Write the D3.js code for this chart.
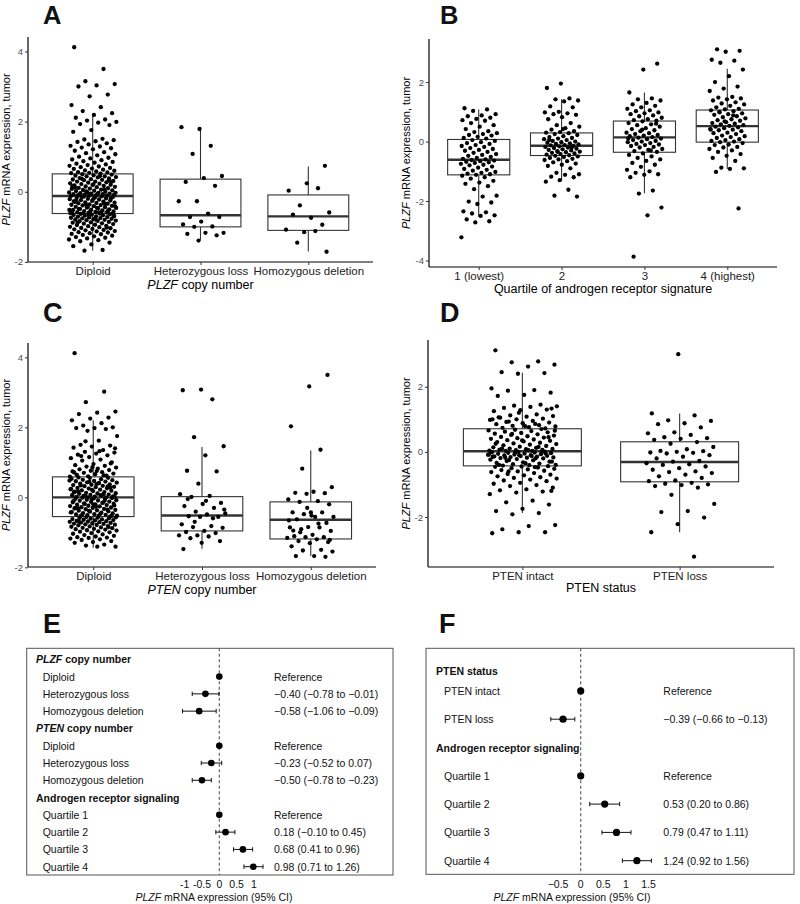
<!DOCTYPE html>
<html><head><meta charset="utf-8">
<script src="https://cdn.jsdelivr.net/npm/d3@7"></script>
<style>
body{margin:0;background:#fff}
svg{display:block}
text{font-family:"Liberation Sans",Arial,Helvetica,sans-serif}
</style>
</head><body>
<svg id="c" width="800" height="904"></svg>
<script>
// ---------------- DATA ----------------
const A_cats = ["Diploid","Heterozygous loss","Homozygous deletion"];
const A_dip = [4.12,3.5,3.15,3.07,3.03,3.0,2.77,2.72,2.47,2.41,2.3,2.24,2.19,2.11,2.06,2.03,1.99,1.97,1.93,1.9,1.76,1.71,1.51,1.49,1.47,1.44,1.42,1.38,1.35,1.31,1.29,1.26,1.24,1.21,1.17,1.13,1.1,1.07,1.04,1.0,0.97,0.95,0.92,0.9,0.87,0.85,0.83,0.8,0.78,0.76,0.74,0.72,0.7,0.68,0.66,0.65,0.63,0.61,0.6,0.58,0.56,0.55,0.54,0.53,0.52,
0.5,0.49,0.47,0.46,0.44,0.44,0.42,0.41,0.39,0.38,0.36,0.35,0.34,0.33,0.31,0.29,0.29,0.27,0.26,0.24,0.23,0.22,0.2,0.19,0.18,0.17,0.15,0.14,0.13,0.11,0.1,0.09,0.08,0.06,0.05,0.04,0.03,0.02,0.0,-0.01,-0.02,-0.03,-0.04,-0.05,-0.06,-0.07,-0.07,-0.08,-0.09,-0.1,-0.1,-0.11,-0.11,-0.12,0.45,0.37,0.28,0.21,0.12,0.07,0.01,-0.03,-0.06,-0.08,0.32,-0.05,0.16,
-0.13,-0.14,-0.15,-0.16,-0.18,-0.19,-0.2,-0.21,-0.22,-0.24,-0.25,-0.26,-0.27,-0.28,-0.3,-0.31,-0.32,-0.33,-0.34,-0.36,-0.37,-0.38,-0.39,-0.4,-0.41,-0.43,-0.44,-0.45,-0.46,-0.47,-0.49,-0.5,-0.51,-0.52,-0.53,-0.55,-0.56,-0.57,-0.58,-0.59,-0.6,-0.61,-0.62,-0.14,-0.19,-0.23,-0.29,-0.33,-0.36,-0.42,-0.46,-0.49,-0.53,-0.56,-0.58,-0.6,-0.61,-0.62,-0.17,-0.27,-0.35,-0.44,-0.52,-0.59,
-0.63,-0.64,-0.65,-0.66,-0.67,-0.68,-0.69,-0.7,-0.71,-0.72,-0.73,-0.74,-0.75,-0.76,-0.77,-0.78,-0.79,-0.8,-0.81,-0.82,-0.83,-0.84,-0.86,-0.87,-0.88,-0.9,-0.91,-0.92,-0.94,-0.95,-0.97,-0.98,-1.0,-1.01,-1.03,-1.04,-1.06,-1.07,-1.09,-1.1,-1.12,-1.13,-1.15,-1.16,-1.18,-1.2,-1.21,-1.23,-1.25,-1.27,-1.29,-1.31,-1.33,-1.36,-1.38,-1.41,-1.45,-1.5,-1.55,-1.66,-1.68,-0.7,-0.79,-0.88,-1.02,-0.66];
const A_het = [1.79,1.84,1.31,1.08,0.45,0.39,0.28,0.17,-0.27,-0.27,-0.62,-0.72,-0.72,-0.85,-0.93,-0.99,-1.0,-1.17,-1.17,-1.2,-1.24,-1.39];
const A_hom = [0.74,0.24,0.03,0.10,-0.39,-0.59,-0.74,-0.65,-0.94,-1.15,-1.08,-1.12,-1.45,-1.71];
const A_q1 = [-0.62,-1.0,-1.1], A_med = [-0.12,-0.67,-0.70], A_q3 = [0.51,0.36,-0.09], A_lo = [-1.68,-1.37,-1.70], A_hi = [2.2,1.84,0.72];
const A_yTicks = [-2,0,2,4];

const B_cats = ["1 (lowest)","2","3","4 (highest)"];
const B_g1 = [1.12,1.08,1.03,0.92,0.88,0.85,0.8,0.76,0.72,0.7,0.62,0.55,0.5,0.42,0.35,0.32,0.28,0.25,0.22,0.2,0.16,0.12,0.1,0.05,0.02,-0.02,-0.05,-0.08,-0.12,-0.15,-0.18,-0.22,-0.25,-0.28,-0.31,-0.35,-0.38,-0.42,-0.45,-0.48,-0.52,-0.55,-0.58,-0.6,-0.62,-0.64,-0.66,-0.68,-0.7,-0.72,-0.75,-0.78,-0.8,-0.84,-0.88,-0.92,-0.95,-0.98,-1.02,-1.05,-1.08,-1.1,-1.12,-1.15,-1.2,-1.25,-1.32,-1.38,-1.42,-1.5,-1.6,-1.82,-1.85,-2.02,-2.05,-2.1,-2.35,-2.38,-2.42,-2.48,-2.5,-2.62,-2.68,-2.72,-3.22];
const B_g2 = [1.95,1.8,1.45,1.42,1.38,1.35,1.18,1.15,1.0,0.98,0.95,0.92,0.9,0.82,0.75,0.62,0.55,0.5,0.45,0.4,0.35,0.32,0.3,0.28,0.25,0.22,0.18,0.15,0.12,0.1,0.08,0.05,0.02,0.0,-0.02,-0.04,-0.06,-0.08,-0.1,-0.12,-0.13,-0.15,-0.16,-0.18,-0.2,-0.22,-0.24,-0.26,-0.28,-0.3,-0.32,-0.34,-0.36,-0.38,-0.4,-0.42,-0.44,-0.46,-0.48,-0.5,-0.52,-0.55,-0.58,-0.6,-0.62,-0.66,-0.7,-0.74,-0.78,-0.82,-0.9,-1.05,-1.1,-1.12,-1.18,-1.2,-1.3,-1.35,-1.62,-1.82,-1.85,0.42,0.05,-0.2,-0.35];
const B_g3 = [2.62,2.42,1.65,1.45,1.42,1.38,1.3,1.25,1.2,1.15,1.1,1.05,1.02,0.98,0.95,0.92,0.88,0.85,0.8,0.75,0.72,0.7,0.68,0.62,0.58,0.55,0.5,0.45,0.42,0.38,0.35,0.3,0.28,0.25,0.22,0.2,0.18,0.15,0.13,0.1,0.08,0.05,0.02,0.0,-0.02,-0.05,-0.08,-0.1,-0.12,-0.15,-0.18,-0.2,-0.25,-0.28,-0.32,-0.35,-0.4,-0.45,-0.5,-0.55,-0.6,-0.65,-0.72,-0.78,-0.85,-0.95,-1.0,-1.05,-1.1,-1.12,-1.2,-1.65,-1.75,-2.22,-2.48,-3.87,0.6,0.4,0.1,-0.3];
const B_g4 = [3.1,3.05,3.02,2.75,2.72,2.65,2.42,2.2,2.0,1.85,1.78,1.7,1.5,1.48,1.45,1.42,1.38,1.32,1.28,1.25,1.2,1.15,1.1,1.08,1.05,1.02,0.98,0.95,0.92,0.9,0.85,0.82,0.78,0.75,0.72,0.7,0.65,0.62,0.6,0.58,0.55,0.53,0.5,0.48,0.45,0.42,0.4,0.38,0.35,0.3,0.28,0.25,0.2,0.18,0.15,0.12,0.08,0.05,0.02,0.0,-0.02,-0.05,-0.1,-0.12,-0.18,-0.2,-0.25,-0.3,-0.35,-0.42,-0.48,-0.55,-0.65,-0.88,-0.9,-0.92,-1.02,-2.25,0.68,0.4,0.88,1.0];
const B_q1 = [-1.12,-0.47,-0.36,-0.02], B_med = [-0.61,-0.14,0.14,0.52], B_q3 = [0.07,0.29,0.69,1.06], B_lo = [-2.53,-1.31,-1.74,-0.92], B_hi = [1.08,1.42,1.65,2.45];
const B_yTicks = [-4,-2,0,2];

const C_cats = ["Diploid","Heterozygous loss","Homozygous deletion"];
const C_dip = [4.12,3.02,2.72,2.45,2.42,2.38,2.28,2.25,2.2,2.12,2.05,2.0,1.98,1.98,1.95,1.9,1.75,1.62,1.5,1.48,1.45,1.42,1.35,1.3,1.28,1.25,1.22,1.2,1.15,1.12,1.08,1.05,1.0,0.95,0.92,0.9,0.88,0.85,0.82,0.8,0.78,0.76,0.74,0.72,0.7,0.68,0.66,0.64,0.62,0.6,0.59,1.32,1.18,0.97,0.86,0.71,0.63,1.6,1.4,0.75,
0.57,0.56,0.55,0.53,0.52,0.5,0.49,0.47,0.46,0.45,0.43,0.42,0.4,0.39,0.37,0.36,0.35,0.33,0.32,0.3,0.29,0.27,0.26,0.25,0.23,0.22,0.2,0.19,0.18,0.16,0.15,0.13,0.12,0.11,0.1,0.08,0.07,0.06,0.05,0.04,0.03,0.02,0.01,0.0,0.0,0.48,0.41,0.34,0.28,0.21,0.14,0.09,0.05,0.02,0.38,0.17,0.31,0.44,0.24,0.06,
-0.01,-0.02,-0.03,-0.04,-0.05,-0.07,-0.08,-0.09,-0.1,-0.12,-0.13,-0.14,-0.16,-0.17,-0.18,-0.2,-0.21,-0.22,-0.24,-0.25,-0.26,-0.28,-0.29,-0.3,-0.32,-0.33,-0.34,-0.36,-0.37,-0.38,-0.4,-0.41,-0.42,-0.44,-0.45,-0.46,-0.48,-0.49,-0.5,-0.51,-0.52,-0.53,-0.54,-0.55,-0.06,-0.11,-0.15,-0.19,-0.23,-0.27,-0.31,-0.35,-0.39,-0.43,-0.47,-0.5,-0.53,-0.2,-0.3,-0.1,
-0.56,-0.57,-0.58,-0.59,-0.6,-0.61,-0.62,-0.63,-0.64,-0.65,-0.66,-0.67,-0.68,-0.69,-0.7,-0.71,-0.72,-0.73,-0.74,-0.75,-0.76,-0.77,-0.78,-0.79,-0.8,-0.82,-0.83,-0.84,-0.86,-0.87,-0.88,-0.9,-0.91,-0.92,-0.94,-0.95,-0.97,-0.98,-1.0,-1.02,-1.04,-1.06,-1.08,-1.1,-1.12,-1.14,-1.15,-1.16,-1.18,-1.2,-1.22,-1.25,-1.28,-1.3,-1.35,-1.38,-1.41,-1.41,-0.7,-0.85];
const C_het = [3.08,3.06,2.8,1.72,1.46,1.2,0.76,0.74,0.39,0.09,0.04,0.01,-0.16,-0.19,-0.25,-0.3,-0.41,-0.46,-0.49,-0.54,-0.56,-0.56,-0.77,-0.82,-0.85,-0.87,-0.96,-0.99,-1.02,-1.09,-1.09,-1.12,-1.17,-1.25,-1.3,-1.48,-0.6,-0.7,-0.35,-0.1,-0.05];
const C_hom = [3.5,3.17,2.03,1.36,0.82,0.29,0.16,0.13,0.12,0.1,-0.06,-0.11,-0.13,-0.2,-0.43,-0.43,-0.43,-0.48,-0.56,-0.56,-0.63,-0.73,-0.85,-0.86,-0.86,-0.91,-0.96,-1.07,-1.11,-1.14,-1.14,-1.16,-1.2,-1.25,-1.28,-1.31,-1.4,-1.5,-1.52,-1.55,-1.68,-1.68,-1.7,-0.3,-0.66,-0.75,-1.0,-1.22,-0.52,-0.95];
const C_q1 = [-0.55,-0.96,-1.19], C_med = [0.0,-0.52,-0.64], C_q3 = [0.585,0.02,-0.13], C_lo = [-1.44,-1.47,-1.68], C_hi = [2.2,1.44,1.34];
const C_yTicks = [-2,0,2,4];

const D_cats = ["PTEN intact","PTEN loss"];
const D_int = [3.12,2.78,2.75,2.68,2.62,2.45,2.42,2.4,1.95,1.9,1.88,1.82,1.75,1.72,1.45,1.42,1.4,1.38,1.35,1.3,1.28,1.25,1.15,1.12,1.1,1.08,1.05,1.02,1.0,0.98,0.95,0.92,0.9,0.88,0.85,0.82,0.8,0.78,0.76,0.74,0.72,1.2,1.0,0.86,0.93,1.33,0.79,1.06,
0.7,0.68,0.66,0.64,0.62,0.6,0.58,0.56,0.54,0.52,0.5,0.48,0.46,0.44,0.42,0.4,0.38,0.36,0.34,0.32,0.3,0.28,0.26,0.24,0.22,0.2,0.18,0.16,0.14,0.12,0.1,0.09,0.08,0.07,0.06,0.05,0.04,0.03,0.03,0.45,0.35,0.25,0.15,0.55,0.65,0.05,0.1,
0.01,0.0,-0.01,-0.02,-0.03,-0.04,-0.05,-0.06,-0.07,-0.08,-0.09,-0.1,-0.11,-0.12,-0.13,-0.14,-0.15,-0.16,-0.17,-0.18,-0.19,-0.2,-0.22,-0.24,-0.26,-0.28,-0.3,-0.32,-0.34,-0.36,-0.38,-0.4,-0.41,-0.42,-0.05,-0.1,-0.15,-0.2,-0.25,-0.3,-0.35,-0.4,0.0,-0.02,-0.08,-0.13,-0.18,
-0.44,-0.45,-0.46,-0.48,-0.5,-0.52,-0.54,-0.56,-0.58,-0.6,-0.62,-0.65,-0.68,-0.7,-0.72,-0.75,-0.78,-0.8,-0.82,-0.85,-0.88,-0.9,-0.95,-0.98,-1.02,-1.05,-1.1,-1.15,-1.18,-1.22,-1.25,-1.3,-1.5,-1.55,-1.62,-1.75,-1.82,-1.88,-1.92,-2.25,-2.28,-2.38,-2.47,-2.47,-2.5,-0.47,-0.6,-1.2];
const D_loss = [3.0,1.18,1.12,0.97,0.95,0.88,0.85,0.75,0.6,0.57,0.52,0.45,0.42,0.4,0.37,0.3,0.25,0.15,0.08,0.03,0.02,0.0,-0.02,-0.03,-0.05,-0.1,-0.15,-0.2,-0.28,-0.3,-0.35,-0.38,-0.4,-0.45,-0.5,-0.55,-0.6,-0.62,-0.65,-0.7,-0.75,-0.8,-0.88,-0.9,-0.95,-0.98,-1.0,-1.02,-1.05,-1.1,-1.32,-1.6,-1.82,-1.85,-2.02,-2.22,-2.47,-3.22];
const D_q1 = [-0.43,-0.92], D_med = [0.02,-0.31], D_q3 = [0.71,0.31], D_lo = [-1.88,-2.47], D_hi = [2.43,1.18];
const D_yTicks = [-2,0,2];

const E_labels = ["PLZF copy number","Diploid","Heterozygous loss","Homozygous deletion","PTEN copy number","Diploid","Heterozygous loss","Homozygous deletion","Androgen receptor signaling","Quartile 1","Quartile 2","Quartile 3","Quartile 4"];
const E_est = [null,0,-0.40,-0.58,null,0,-0.23,-0.50,null,0,0.18,0.68,0.98];
const E_lo  = [null,null,-0.78,-1.06,null,null,-0.52,-0.78,null,null,-0.10,0.41,0.71];
const E_hi  = [null,null,-0.01,-0.09,null,null,0.07,-0.23,null,null,0.45,0.96,1.26];
const E_text = ["","Reference","\u22120.40 (\u22120.78 to \u22120.01)","\u22120.58 (\u22121.06 to \u22120.09)","","Reference","\u22120.23 (\u22120.52 to 0.07)","\u22120.50 (\u22120.78 to \u22120.23)","","Reference","0.18 (\u22120.10 to 0.45)","0.68 (0.41 to 0.96)","0.98 (0.71 to 1.26)"];
const E_ticks = [-1,-0.5,0,0.5,1];
const E_tickLabels = ["-1","-0.5","0","0.5","1"];

const F_labels = ["PTEN status","PTEN intact","PTEN loss","Androgen receptor signaling","Quartile 1","Quartile 2","Quartile 3","Quartile 4"];
const F_est = [null,0,-0.39,null,0,0.53,0.79,1.24];
const F_lo  = [null,null,-0.66,null,null,0.20,0.47,0.92];
const F_hi  = [null,null,-0.13,null,null,0.86,1.11,1.56];
const F_text = ["","Reference","\u22120.39 (\u22120.66 to \u22120.13)","","Reference","0.53 (0.20 to 0.86)","0.79 (0.47 to 1.11)","1.24 (0.92 to 1.56)"];
const F_ticks = [-0.5,0,0.5,1,1.5];
const F_tickLabels = ["\u22120.5","0","0.5","1","1.5"];

// ---------------- DRAWING ----------------
const svg = d3.select("#c");
const INK = "#000", GRID = "#333";

function rich(sel, parts) {
  parts.forEach(p => sel.append("tspan").text(p[0]).attr("font-style", p[1] ? "italic" : null));
  return sel;
}
function letter(t, x, y, fs) {
  svg.append("text").attr("x", x).attr("y", y).attr("font-size", fs || 27).attr("font-weight", "bold").attr("fill", "#111").text(t);
}

function boxPanel(cfg) {
  const all = cfg.groups.flat();
  const [mn, mx] = d3.extent(all), pad = (mx - mn) * 0.05;
  const y = d3.scaleLinear().domain([mn - pad, mx + pad]).range([cfg.y1, cfg.y0]);
  const x = d3.scalePoint().domain(cfg.cats).range([cfg.x0, cfg.x1]).padding(0.6);
  const unit = x.step();
  const g = svg.append("g");
  cfg.cats.forEach((c, i) => {
    const cx = x(c), hw = unit * 0.375;
    g.append("line").attr("x1", cx).attr("x2", cx).attr("y1", y(cfg.hi[i])).attr("y2", y(cfg.q3[i])).attr("stroke", GRID).attr("stroke-width", 1.1);
    g.append("line").attr("x1", cx).attr("x2", cx).attr("y1", y(cfg.lo[i])).attr("y2", y(cfg.q1[i])).attr("stroke", GRID).attr("stroke-width", 1.1);
    g.append("rect").attr("x", cx - hw).attr("y", y(cfg.q3[i])).attr("width", 2 * hw).attr("height", y(cfg.q1[i]) - y(cfg.q3[i]))
      .attr("fill", "#fff").attr("stroke", GRID).attr("stroke-width", 1.1);
    g.append("line").attr("x1", cx - hw).attr("x2", cx + hw).attr("y1", y(cfg.med[i])).attr("y2", y(cfg.med[i])).attr("stroke", GRID).attr("stroke-width", 2.4);
  });
  cfg.groups.forEach((vals, i) => {
    const cx = x(cfg.cats[i]);
    g.selectAll(null).data(vals).join("circle")
      .attr("cx", (d, j) => cx + (((j * 0.6180339887 + i * 0.37 + 0.11) % 1) - 0.5) * 2 * 0.22 * unit)
      .attr("cy", d => y(d)).attr("r", 2.15).attr("fill", INK);
  });
  // axes
  const ya = g.append("g").attr("transform", `translate(${cfg.x0},0)`)
    .call(d3.axisLeft(y).tickValues(cfg.yTicks).tickSize(3).tickSizeOuter(0).tickPadding(2).tickFormat(d => String(d)));
  ya.select(".domain").attr("stroke", INK).attr("stroke-width", 1.2).attr("d", `M0,${cfg.y0}V${cfg.y1}`);
  ya.selectAll(".tick line").attr("stroke", GRID);
  ya.selectAll(".tick text").attr("font-size", 9.5).attr("fill", "#4d4d4d").attr("font-family", null);
  const xa = g.append("g").attr("transform", `translate(0,${cfg.y1})`)
    .call(d3.axisBottom(x).tickSize(3).tickSizeOuter(0).tickPadding(1.5));
  xa.select(".domain").attr("stroke", INK).attr("stroke-width", 1.2).attr("d", `M${cfg.x0},0H${cfg.x1}`);
  xa.selectAll(".tick line").attr("stroke", GRID);
  xa.selectAll(".tick text").attr("font-size", 11.5).attr("fill", "#222").attr("font-family", null);
  // titles
  const ym = (cfg.y0 + cfg.y1) / 2;
  rich(g.append("text").attr("transform", `translate(${cfg.yTitleX},${ym}) rotate(-90)`).attr("text-anchor", "middle")
    .attr("dominant-baseline", "central").attr("font-size", 11).attr("fill", INK), [["PLZF", true], [" mRNA expression, tumor", false]]);
  rich(g.append("text").attr("x", (cfg.x0 + cfg.x1) / 2).attr("y", cfg.y1 + cfg.xTitleDy).attr("text-anchor", "middle")
    .attr("font-size", 12.5).attr("fill", INK), cfg.xTitle);
  letter(cfg.letter, cfg.lx, cfg.ly, cfg.lfs);
}

boxPanel({cats: A_cats, groups: [A_dip, A_het, A_hom], q1: A_q1, med: A_med, q3: A_q3, lo: A_lo, hi: A_hi, yTicks: A_yTicks,
  x0: 28, x1: 373, y0: 37, y1: 262, yTitleX: 6, xTitleDy: 27, xTitle: [["PLZF", true], [" copy number", false]], letter: "A", lx: 43, ly: 23.5, lfs: 25.5});
boxPanel({cats: B_cats, groups: [B_g1, B_g2, B_g3, B_g4], q1: B_q1, med: B_med, q3: B_q3, lo: B_lo, hi: B_hi, yTicks: B_yTicks,
  x0: 429, x1: 777, y0: 39, y1: 267, yTitleX: 406, xTitleDy: 25.5, xTitle: [["Quartile of androgen receptor signature", false]], letter: "B", lx: 440, ly: 23.5, lfs: 25.5});
boxPanel({cats: C_cats, groups: [C_dip, C_het, C_hom], q1: C_q1, med: C_med, q3: C_q3, lo: C_lo, hi: C_hi, yTicks: C_yTicks,
  x0: 28, x1: 376, y0: 343, y1: 567, yTitleX: 6, xTitleDy: 27, xTitle: [["PTEN", true], [" copy number", false]], letter: "C", lx: 43, ly: 322});
boxPanel({cats: D_cats, groups: [D_int, D_loss], q1: D_q1, med: D_med, q3: D_q3, lo: D_lo, hi: D_hi, yTicks: D_yTicks,
  x0: 428, x1: 774, y0: 340, y1: 567, yTitleX: 406, xTitleDy: 25, xTitle: [["PTEN status", false]], letter: "D", lx: 440, ly: 322});

function forest(cfg) {
  const g = svg.append("g");
  g.append("rect").attr("x", cfg.bx0).attr("y", cfg.by0).attr("width", cfg.bx1 - cfg.bx0).attr("height", cfg.by1 - cfg.by0)
    .attr("fill", "none").attr("stroke", "#555").attr("stroke-width", 1);
  const x = d3.scaleLinear().domain([0, 1]).range([cfg.zeroX, cfg.oneX]);
  const n = cfg.labels.length;
  const ys = d3.scalePoint().domain(d3.range(n)).range([cfg.ry0, cfg.ry1]);
  const rowY = i => ys(i) + (i === 0 ? cfg.firstShift : 0);
  g.append("line").attr("x1", x(0)).attr("x2", x(0)).attr("y1", cfg.by0).attr("y2", cfg.by1)
    .attr("stroke", "#555").attr("stroke-width", 1.1).attr("stroke-dasharray", "3,2.5");
  cfg.labels.forEach((lab, i) => {
    const header = cfg.est[i] === null;
    const t = g.append("text").attr("x", header ? cfg.hx : cfg.lx).attr("y", rowY(i)).attr("dominant-baseline", "central")
      .attr("font-size", 10.5).attr("fill", "#111").attr("font-weight", header ? "bold" : null);
    if (header && cfg.italicGene && /^(PLZF|PTEN) /.test(lab)) {
      const sp = lab.indexOf(" ");
      rich(t, [[lab.slice(0, sp), true], [lab.slice(sp), false]]);
    } else t.text(lab);
    if (!header) {
      g.append("text").attr("x", cfg.vx).attr("y", rowY(i)).attr("dominant-baseline", "central").attr("font-size", 10.5).attr("fill", "#111").text(cfg.text[i]);
    }
  });
  cfg.est.forEach((e, i) => {
    if (e === null) return;
    const yy = rowY(i);
    if (cfg.lo[i] !== null) {
      g.append("line").attr("x1", x(cfg.lo[i])).attr("x2", x(cfg.hi[i])).attr("y1", yy).attr("y2", yy).attr("stroke", "#111").attr("stroke-width", 1);
      [cfg.lo[i], cfg.hi[i]].forEach(v => g.append("line").attr("x1", x(v)).attr("x2", x(v)).attr("y1", yy - 2.2).attr("y2", yy + 2.2).attr("stroke", "#111").attr("stroke-width", 1));
    }
    g.append("circle").attr("cx", x(e)).attr("cy", yy).attr("r", cfg.r).attr("fill", "#000");
  });
  cfg.ticks.forEach((t, i) => g.append("text").attr("x", x(t)).attr("y", cfg.tickY).attr("text-anchor", "middle")
    .attr("dominant-baseline", "central").attr("font-size", 10.5).attr("fill", "#111").text(cfg.tickLabels[i]));
  rich(g.append("text").attr("x", cfg.titleX).attr("y", cfg.titleY).attr("text-anchor", "middle").attr("dominant-baseline", "central")
    .attr("font-size", 10.5).attr("fill", "#111"), [["PLZF", true], [" mRNA expression (95% CI)", false]]);
  letter(cfg.letter, cfg.letX, cfg.letY);
}

forest({labels: E_labels, est: E_est, lo: E_lo, hi: E_hi, text: E_text, ticks: E_ticks, tickLabels: E_tickLabels, italicGene: true,
  bx0: 26.7, bx1: 393, by0: 648.3, by1: 875, zeroX: 219.3, oneX: 254, ry0: 659.3, ry1: 866.7, firstShift: 0,
  hx: 36, lx: 42.7, vx: 274, r: 3.3, tickY: 884, titleX: 214, titleY: 897, letter: "E", letX: 43, letY: 633});
forest({labels: F_labels, est: F_est, lo: F_lo, hi: F_hi, text: F_text, ticks: F_ticks, tickLabels: F_tickLabels, italicGene: false,
  bx0: 426, bx1: 794, by0: 648.3, by1: 874.3, zeroX: 580.7, oneX: 626, ry0: 662.6, ry1: 860.7, firstShift: 8,
  hx: 436, lx: 444, vx: 663.3, r: 3.6, tickY: 884, titleX: 572, titleY: 896.5, letter: "F", letX: 439, letY: 633});
</script>
</body></html>
